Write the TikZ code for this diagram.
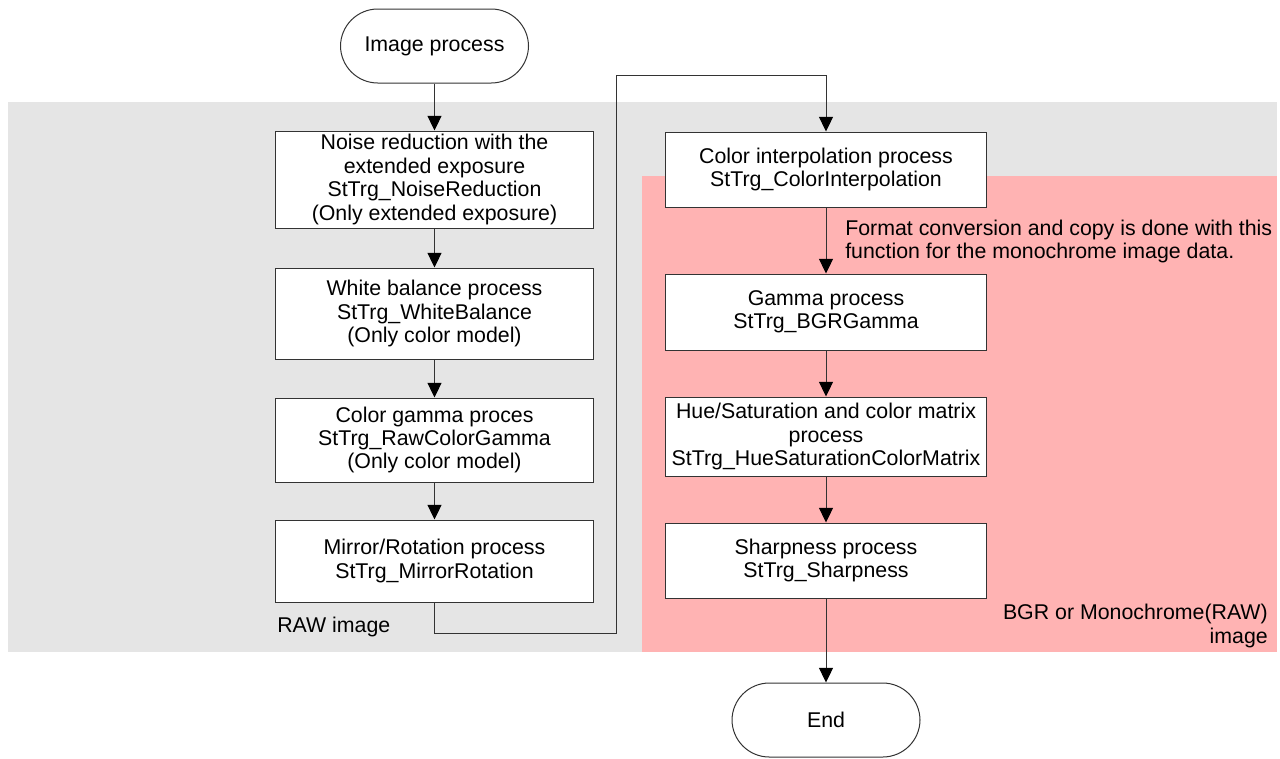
\documentclass[tikz,border=0pt]{standalone}
\usepackage{fontspec}
\setmainfont{Liberation Sans}
\usepackage{tikz}
\usetikzlibrary{arrows.meta}
\definecolor{rawgray}{RGB}{229,229,229}
\definecolor{bgrpink}{RGB}{255,179,179}
\newcommand*\leftwd {238pt}
\newcommand*\rightwd{241pt}
\newcommand*\linew  {0.75pt}
\tikzset{
    proc/.style     = {draw=black!80, fill=white, line width=\linew,
                      inner sep=0pt, align=center,
                      font=\fontsize{16}{17.6}\selectfont},
    leftproc/.style = {proc, minimum width=\leftwd},
    rightproc/.style= {proc, minimum width=\rightwd},
    terminal/.style = {proc, rounded corners=28pt,
                      minimum width=141pt, minimum height=55.5pt},
    flow/.style     = {draw=black!80, line width=\linew,
                      -{Triangle[length=11pt,width=10.5pt,color=black]}},
    note/.style     = {inner sep=0pt, font=\fontsize{16}{17.6}\selectfont},
  }

\begin{document}
\begin{tikzpicture}[x=0.75pt, y=-0.75pt]
        % Page frame, 1280 x 758 units
        \fill[white] (0,0) rectangle (1280,758);
        \useasboundingbox (0,0) rectangle (1280,758);

        % RAW image area and BGR area behind it
        \fill[rawgray] (8,102) rectangle (1277,652);
        \fill[bgrpink] (642,176) rectangle (1277,652);

        % Left column: RAW processing
        \node[terminal] (start) at (434.5,46) {Image process};
        \node[leftproc, minimum height=72.75pt] (noise) at (434.5,179.5)
            {Noise reduction with the\\extended exposure\\StTrg\_NoiseReduction\\(Only extended exposure)};
        \node[leftproc, minimum height=68.25pt] (white) at (434.5,313.5)
            {White balance process\\StTrg\_WhiteBalance\\(Only color model)};
        \node[leftproc, minimum height=63pt] (rawgamma) at (434.5,440)
            {Color gamma proces\\StTrg\_RawColorGamma\\(Only color model)};
        \node[leftproc, minimum height=61.5pt] (mirror) at (434.5,561)
            {Mirror/Rotation process\\StTrg\_MirrorRotation};

        % Right column: BGR processing
        \node[rightproc, minimum height=56.25pt] (interp) at (826,169.5)
            {Color interpolation process\\StTrg\_ColorInterpolation};
        \node[rightproc, minimum height=57pt] (bgrgamma) at (826,312)
            {Gamma process\\StTrg\_BGRGamma};
        \node[rightproc, minimum height=59.25pt] (hue) at (826,436.5)
            {Hue/Saturation and color matrix\\process\\StTrg\_HueSaturationColorMatrix};
        \node[rightproc, minimum height=56.25pt] (sharp) at (826,560.5)
            {Sharpness process\\StTrg\_Sharpness};
        \node[terminal] (finish) at (826,720) {End};

        % Area labels and remark
        \node[note, anchor=west] (rawlbl) at (277,627) {RAW image};
        \node[note, anchor=east, align=right] (bgrlbl) at (1268,626)
            {BGR or Monochrome(RAW)\\image};
        \node[note, anchor=west, align=left] (remark) at (845,241.5)
            {Format conversion and copy is done with this\\function for the monochrome image data.};

        % Flow arrows
        \foreach \a/\b in {start/noise, noise/white, white/rawgamma, rawgamma/mirror,
                           interp/bgrgamma, bgrgamma/hue, hue/sharp, sharp/finish} {
            \draw[flow] (\a) -- (\b);
        }

        % Jump from the left column to the right one
        \coordinate (loopbot) at (616,633);
        \coordinate (looptop) at (616,75);
        \draw[flow] (mirror.south) |- (loopbot) -- (looptop) -| (interp.north);
    \end{tikzpicture}
\end{document}
